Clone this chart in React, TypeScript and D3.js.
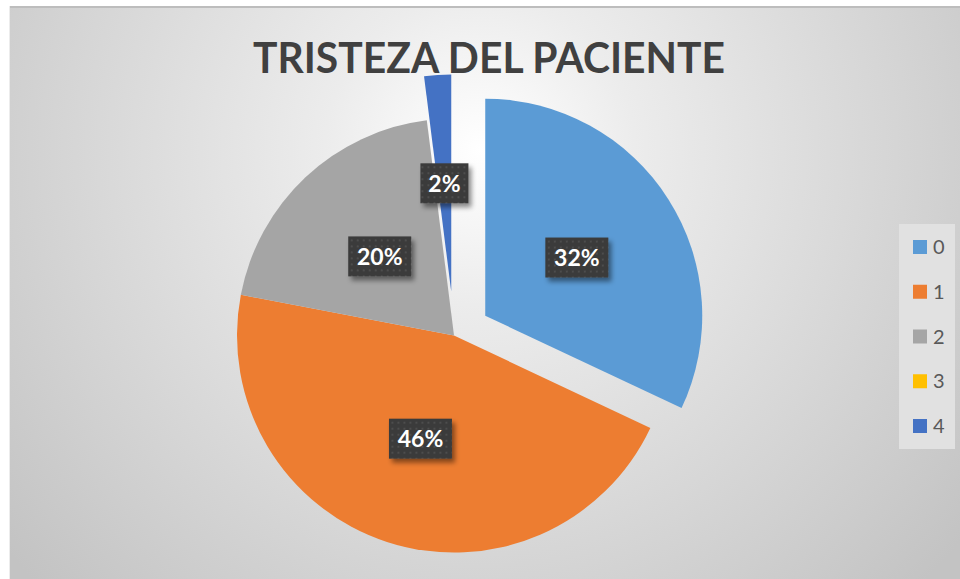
import React from "react";
import * as d3 from "d3";

const categories = ["0", "1", "2", "3", "4"];
const values = [32, 46, 20, 0, 2];
const colors = ["#5B9BD5", "#ED7D31", "#A5A5A5", "#FFC000", "#4472C4"];
const explode = [37, 0, 0, 0, 44];
const title = "TRISTEZA DEL PACIENTE";

export default function App() {
  const W = 960, H = 579;
  const cx = 454, cy = 335.5, r = 217;
  const pie = d3.pie<number>().sort(null).value((d) => d);
  const arcs = pie(values);
  const arc = d3.arc<d3.PieArcDatum<number>>().innerRadius(0).outerRadius(r);
  const labelArc = d3.arc<d3.PieArcDatum<number>>().innerRadius(r * 0.5).outerRadius(r * 0.5);
  const total = d3.sum(values);
  const legendY = d3.scalePoint<string>().domain(categories).range([247, 426]);

  return (
    <svg width={W} height={H} style={{ position: "absolute", left: 0, top: 0 }}>
      <defs>
        <radialGradient id="bg" gradientUnits="userSpaceOnUse" cx={480} cy={150} r={620}>
          <stop offset="0" stopColor="#ffffff" />
          <stop offset="0.25" stopColor="#ececec" />
          <stop offset="1" stopColor="#c3c3c3" />
        </radialGradient>
        <pattern id="dots" width="6" height="6" patternUnits="userSpaceOnUse">
          <rect width="6" height="6" fill="#3b3b3b" />
          <rect x="1" y="1" width="2" height="2" fill="#4d4d4d" />
        </pattern>
        <filter id="shadow" x="-30%" y="-30%" width="160%" height="160%">
          <feDropShadow dx="3" dy="4" stdDeviation="2.5" floodColor="#000" floodOpacity="0.45" />
        </filter>
      </defs>
      <rect x={0} y={0} width={W} height={H} fill="#ffffff" />
      <rect x={9} y={6} width={W - 9} height={H - 6} fill="url(#bg)" />
      <line x1={9} y1={7} x2={W} y2={7} stroke="#bdbdbd" strokeWidth={2} />
      <line x1={9.5} y1={6} x2={9.5} y2={H} stroke="#ececec" strokeWidth={1} />

      <text
        x={489}
        y={73}
        textAnchor="middle"
        fontFamily="Lato, 'Open Sans', sans-serif"
        fontWeight="bold"
        fontSize={42}
        fill="#404040"
        textLength={472}
        lengthAdjust="spacingAndGlyphs"
      >
        {title}
      </text>

      {arcs.map((a, i) => {
        if (a.value === 0) return null;
        const mid = (a.startAngle + a.endAngle) / 2;
        const ox = Math.sin(mid) * explode[i];
        const oy = -Math.cos(mid) * explode[i];
        return (
          <g key={"s" + i} transform={`translate(${cx + ox},${cy + oy})`}>
            <path d={arc(a) || ""} fill={colors[i]} />
          </g>
        );
      })}

      {arcs.map((a, i) => {
        if (a.value === 0) return null;
        const mid = (a.startAngle + a.endAngle) / 2;
        const ox = Math.sin(mid) * explode[i];
        const oy = -Math.cos(mid) * explode[i];
        const [lx, ly] = labelArc.centroid(a);
        const label = `${Math.round((a.value / total) * 100)}%`;
        const bw = 15 * label.length + 18;
        const bh = 40;
        const x = cx + ox + lx;
        const y = cy + oy + ly;
        return (
          <g key={"l" + i} transform={`translate(${x},${y})`}>
            <rect x={-bw / 2} y={-bh / 2} width={bw} height={bh} fill="url(#dots)" filter="url(#shadow)" />
            <text
              x={0}
              y={8.5}
              textAnchor="middle"
              fontFamily="Lato, 'Open Sans', sans-serif"
              fontWeight="bold"
              fontSize={23}
              fill="#ffffff"
            >
              {label}
            </text>
          </g>
        );
      })}

      <rect x={899} y={224} width={56} height={225} fill="#e1e1e1" />
      {categories.map((c, i) => {
        const y = legendY(c) || 0;
        return (
          <g key={"lg" + i}>
            <rect x={913} y={y - 7} width={14} height={14} fill={colors[i]} />
            <text
              x={933}
              y={y + 7}
              fontFamily="Lato, 'Open Sans', sans-serif"
              fontSize={20}
              fill="#595959"
            >
              {c}
            </text>
          </g>
        );
      })}
    </svg>
  );
}
